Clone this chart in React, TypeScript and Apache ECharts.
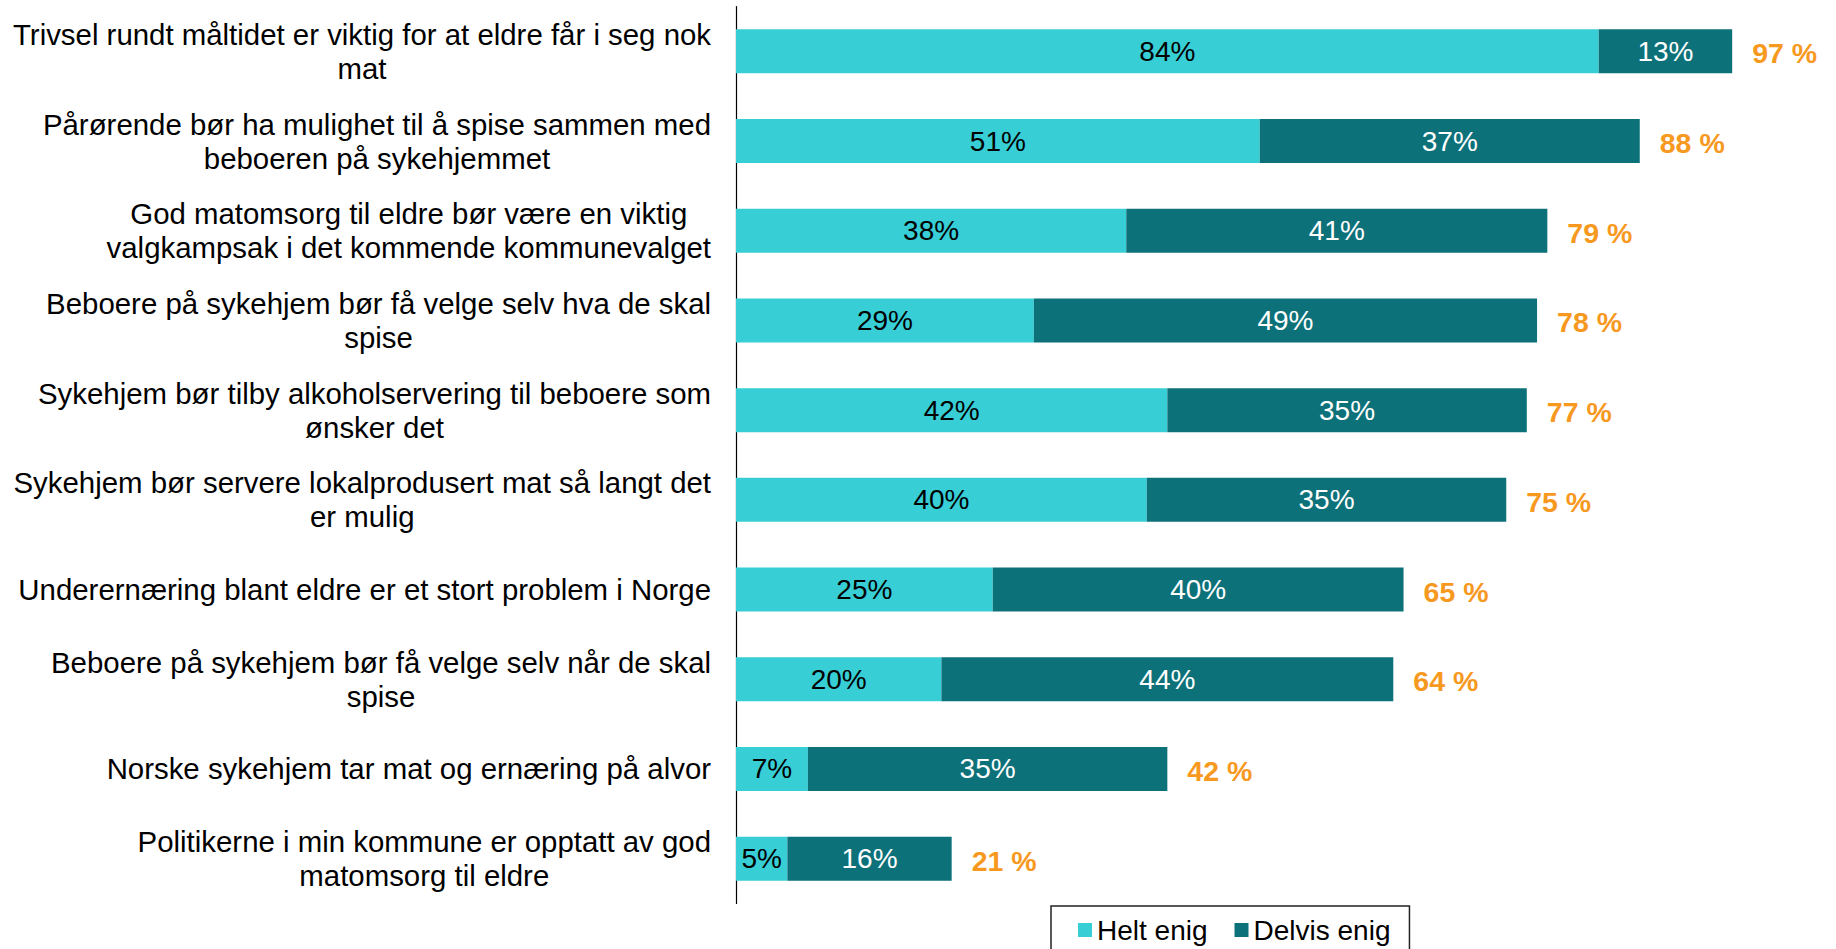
import React, { useEffect, useRef } from "react";
import * as echarts from "echarts";

const categories: string[] = [
  "Trivsel rundt måltidet er viktig for at eldre får i seg nok\nmat",
  "Pårørende bør ha mulighet til å spise sammen med\nbeboeren på sykehjemmet",
  "God matomsorg til eldre bør være en viktig\nvalgkampsak i det kommende kommunevalget",
  "Beboere på sykehjem bør få velge selv hva de skal\nspise",
  "Sykehjem bør tilby alkoholservering til beboere som\nønsker det",
  "Sykehjem bør servere lokalprodusert mat så langt det\ner mulig",
  "Underernæring blant eldre er et stort problem i Norge",
  "Beboere på sykehjem bør få velge selv når de skal\nspise",
  "Norske sykehjem tar mat og ernæring på alvor",
  "Politikerne i min kommune er opptatt av god\nmatomsorg til eldre",
];

const heltEnig: number[] = [84, 51, 38, 29, 42, 40, 25, 20, 7, 5];
const delvisEnig: number[] = [13, 37, 41, 49, 35, 35, 40, 44, 35, 16];
const totals: number[] = [97, 88, 79, 78, 77, 75, 65, 64, 42, 21];

const FONT = "Liberation Sans, Arial, Helvetica, sans-serif";

export default function App() {
  const ref = useRef<HTMLDivElement>(null);

  useEffect(() => {
    if (!ref.current) return;
    const chart = echarts.init(ref.current, null, { renderer: "svg" });
    const option: any = {
      animation: false,
      backgroundColor: "#ffffff",
      grid: { left: 736, right: 73, top: 6.5, bottom: 45.5, containLabel: false },
      legend: {
        data: ["Helt enig", "Delvis enig"],
        left: 1051,
        top: 906,
        orient: "horizontal",
        itemWidth: 14,
        itemHeight: 14,
        itemGap: 27,
        icon: "rect",
        borderColor: "#222",
        borderWidth: 1.5,
        padding: [10, 19, 40, 27],
        textStyle: { fontFamily: FONT, fontSize: 28, color: "#000" },
      },
      xAxis: {
        type: "value",
        min: 0,
        max: 100,
        show: false,
      },
      yAxis: {
        type: "category",
        inverse: true,
        data: categories,
        axisLine: { show: true, lineStyle: { color: "#000", width: 1.2 } },
        axisTick: { show: false },
        splitLine: { show: false },
        axisLabel: {
          margin: 25,
          align: "right",
          formatter: (v: string) =>
            v
              .split("\n")
              .map((l) => `{c|${l}}`)
              .join("\n"),
          rich: {
            c: {
              align: "center",
              fontFamily: FONT,
              fontSize: 29.4,
              lineHeight: 34,
              color: "#000",
            },
          },
        },
      },
      series: [
        {
          name: "Helt enig",
          type: "bar",
          stack: "total",
          barWidth: 44,
          data: heltEnig,
          itemStyle: { color: "#38CED6" },
          label: {
            show: true,
            position: "inside",
            formatter: "{c}%",
            color: "#000",
            fontFamily: FONT,
            fontSize: 28,
          },
        },
        {
          name: "Delvis enig",
          type: "bar",
          stack: "total",
          barWidth: 44,
          data: delvisEnig,
          itemStyle: { color: "#0D717A" },
          label: {
            show: true,
            position: "inside",
            formatter: "{c}%",
            color: "#fff",
            fontFamily: FONT,
            fontSize: 28,
          },
        },
        {
          name: "Total",
          type: "bar",
          stack: "total",
          barWidth: 44,
          data: totals.map(() => 0),
          itemStyle: { color: "transparent" },
          silent: true,
          label: {
            show: true,
            position: "right",
            distance: 20,
            offset: [0, 2],
            formatter: (p: any) => `${totals[p.dataIndex]} %`,
            color: "#F7991F",
            fontWeight: "bold",
            fontFamily: FONT,
            fontSize: 28.5,
          },
        },
      ],
    };
    chart.setOption(option);
    return () => chart.dispose();
  }, []);

  return (
    <div
      ref={ref}
      style={{ position: "fixed", left: 0, top: 0, width: 1836, height: 949, background: "#fff" }}
    />
  );
}
